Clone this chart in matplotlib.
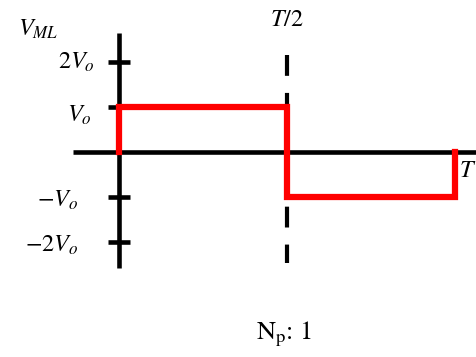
import matplotlib.pyplot as plt

plt.rcParams['mathtext.fontset'] = 'stix'
plt.rcParams['font.family'] = 'STIXGeneral'

# waveform (time in units of T, voltage in units of Vo)
t = [0, 0, 0.5, 0.5, 1, 1]
v = [0, 1, 1, -1, -1, 0]
tick_vals = [2, 1, -1, -2]
tick_labels = ['$2V_o$', '$V_o$', '$-V_o$', '$-2V_o$']

fig = plt.figure(figsize=(4.76, 3.57), dpi=100)
ax = fig.add_axes([0, 0, 1, 1])
ax.set_xlim(-119 / 336, 357 / 336)
ax.set_ylim(-205 / 45, 152 / 45)
ax.axis('off')

# axes
ax.plot([0, 0], [-2.58, 2.64], color='black', lw=3.3, solid_capstyle='butt')
ax.plot([-0.137, 1.2], [0, 0], color='black', lw=3.3, solid_capstyle='butt')
for y in tick_vals:
    ax.plot([-0.033, 0.033], [y, y], color='black', lw=3.3, solid_capstyle='butt')

# T/2 marker
ax.plot([0.5, 0.5], [2.156, -2.467], color='black', lw=3, ls=(0, (5.0, 4.1)))

ax.plot(t, v, color='red', lw=4.5, solid_joinstyle='miter')

pos = {2: (-0.071, 2.0), 1: (-0.08, 0.82), -1: (-0.122, -1.07), -2: (-0.122, -2.07)}
for y, lab in zip(tick_vals, tick_labels):
    x0, y0 = pos[y]
    ax.text(x0, y0, lab, ha='right', va='center', fontsize=17.5)

ax.text(-0.30, 2.73, '$V_{ML}$', ha='left', va='center', fontsize=17.5)
ax.text(0.5, 2.93, '$T/2$', ha='center', va='center', fontsize=17.5)
ax.text(1.012, -0.44, '$T$', ha='left', va='center', fontsize=17.5)
ax.text(0.49, -4.05, r'$\mathrm{N_p}$: 1', ha='center', va='center', fontsize=19)

fig.savefig('out.png', dpi=100)
